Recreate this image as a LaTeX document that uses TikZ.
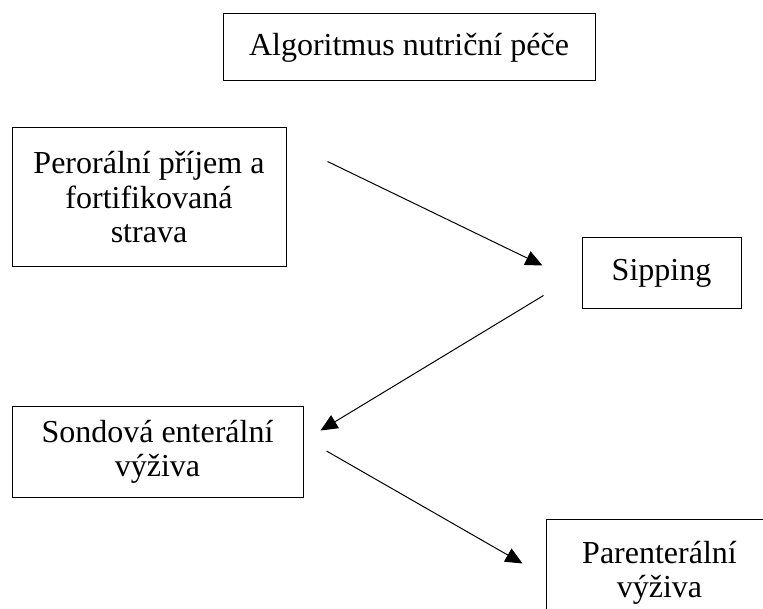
\documentclass[tikz,border=0pt]{standalone}
\usepackage{fontspec}
\setmainfont{Liberation Serif}
\usepackage{tikz}
\usetikzlibrary{arrows.meta}

\begin{document}
\begin{tikzpicture}[
        x=1pt, y=-1pt,
        box/.style={rectangle, draw=black, line width=1pt, inner sep=0pt, align=center, font=\fontsize{32}{34.5}\selectfont},
        arrow/.style={-{Triangle[length=17pt,width=15pt]}, line width=1pt, black}
    ]
    \clip (0,0) rectangle (763,609);
    \node[box, minimum width=372pt, minimum height=67pt] (title) at (409,47.5) {Algoritmus nutriční péče};
    \node[box, minimum width=274pt, minimum height=139pt] (oral) at (149,197.5) {Perorální příjem a\\fortifikovaná\\strava};
    \node[box, minimum width=159pt, minimum height=71pt] (sip) at (661.5,273.5) {Sipping};
    \node[box, minimum width=291pt, minimum height=90pt] (tube) at (157.5,452) {Sondová enterální\\výživa};
    \node[box, minimum width=227pt, minimum height=108pt] (paren) at (659.5,573) {Parenterální\\výživa};
    \draw[arrow] ([xshift=41pt,yshift=-34pt]oral.north east) -- ([xshift=-39pt,yshift=-28pt]sip.north west);
    \draw[arrow] ([xshift=-38pt,yshift=14pt]sip.south west) -- ([xshift=17pt,yshift=-24pt]tube.north east);
    \draw[arrow] ([xshift=23pt,yshift=1pt]tube.east) -- ([xshift=-23pt,yshift=-45pt]paren.north west);
    \end{tikzpicture}
\end{document}
